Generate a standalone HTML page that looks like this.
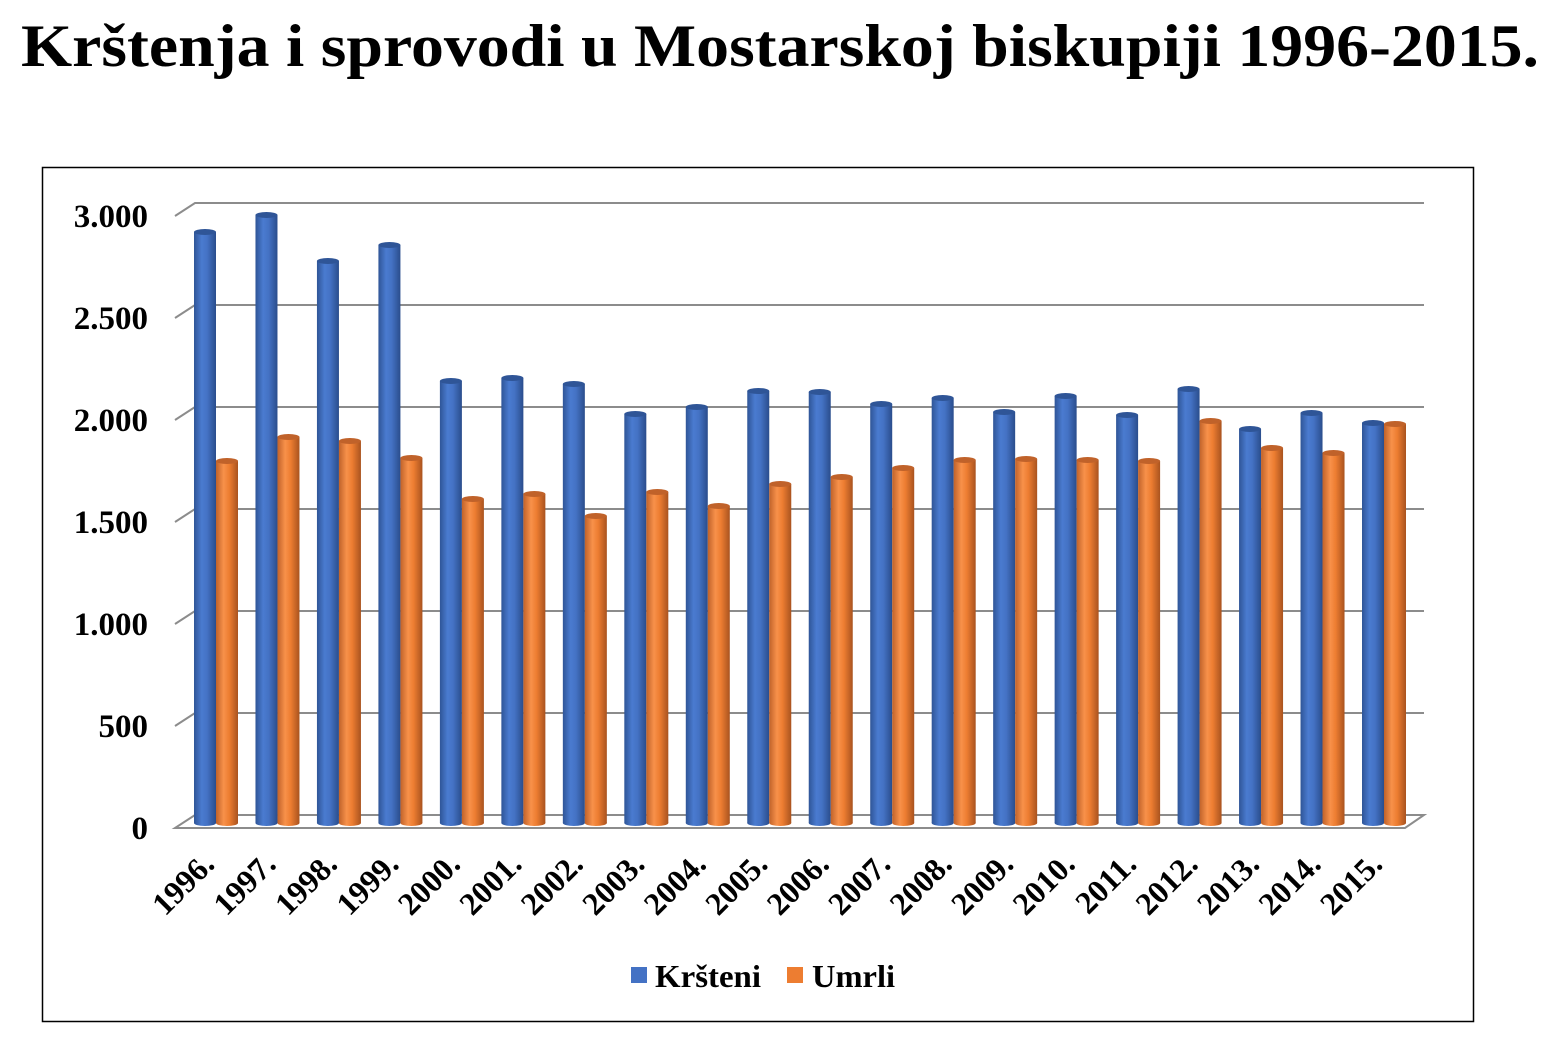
<!DOCTYPE html>
<html><head><meta charset="utf-8"><style>
html,body{margin:0;padding:0;background:#fff;}
svg{display:block;}
</style></head><body>
<svg id="s" width="1550" height="1042" viewBox="0 0 1550 1042" xmlns="http://www.w3.org/2000/svg">
<defs>
<linearGradient id="gb" x1="0" x2="1" y1="0" y2="0">
<stop offset="0" stop-color="#2f5597"/><stop offset="0.35" stop-color="#4a7bd0"/><stop offset="0.6" stop-color="#4472c4"/><stop offset="1" stop-color="#2a4d8c"/></linearGradient>
<linearGradient id="go" x1="0" x2="1" y1="0" y2="0">
<stop offset="0" stop-color="#c0622a"/><stop offset="0.35" stop-color="#f8914a"/><stop offset="0.6" stop-color="#ed7d31"/><stop offset="1" stop-color="#a9531f"/></linearGradient>
</defs>
<text x="780" y="66" text-anchor="middle" font-family="Liberation Serif, serif" font-weight="bold" font-size="60" textLength="1518" lengthAdjust="spacingAndGlyphs">Krštenja i sprovodi u Mostarskoj biskupiji 1996-2015.</text>
<rect x="42.5" y="167.5" width="1431" height="854" fill="none" stroke="#000" stroke-width="1.5"/>
<g id="grid" stroke="#8c8c8c" stroke-width="2" fill="none"></g>
<g id="bars"></g>
<g id="lbl" font-family="Liberation Serif, serif" font-weight="bold"></g>
<rect x="631" y="967" width="16" height="16" fill="#4472c4"/>
<text x="655" y="987" font-family="Liberation Serif, serif" font-weight="bold" font-size="32" textLength="106" lengthAdjust="spacingAndGlyphs">Kršteni</text>
<rect x="787" y="967" width="16" height="16" fill="#ed7d31"/>
<text x="812" y="987" font-family="Liberation Serif, serif" font-weight="bold" font-size="32" textLength="83" lengthAdjust="spacingAndGlyphs">Umrli</text>
</svg>
<script>
var NS="http://www.w3.org/2000/svg";
function el(t,a,p,txt){var e=document.createElementNS(NS,t);for(var k in a)e.setAttribute(k,a[k]);if(txt)e.textContent=txt;p.appendChild(e);return e;}
var g=document.getElementById('grid'),b=document.getElementById('bars'),l=document.getElementById('lbl');
var labs=["3.000","2.500","2.000","1.500","1.000","500","0"];
for(var i=0;i<7;i++){var y=203+i*102;
 if(i<6){el('polyline',{points:(175)+','+(y+13)+' '+195+','+y+' '+1424+','+y},g);}
 el('text',{x:148,y:y+24,'text-anchor':'end','font-size':33},l,labs[i]);}
el('polygon',{points:'195,815 1424,815 1405,828 175,828'},g);
var bt=[232,215,261,245,381,378,384,414,407,391,392,404,398,412,396,415,389,429,413,423];
var ot=[461,437,441,458,499,494,516,492,506,484,477,468,460,459,460,461,421,448,453,424];
var pitch=(1362-194)/19;
function cyl(x,top,c,d){var w=22,bot=823;
 el('rect',{x:x,y:top,width:w,height:bot-top,fill:'url(#'+c+')'},b);
 el('ellipse',{cx:x+w/2,cy:bot,rx:w/2,ry:3,fill:'url(#'+c+')'},b);
 el('ellipse',{cx:x+w/2,cy:top,rx:w/2,ry:3,fill:d},b);}
for(var i=0;i<20;i++){var x=194+i*pitch;
 cyl(x,bt[i],'gb','#2f5597');cyl(x+22,ot[i],'go','#c0622a');
 var ax=x+22,ay=866;
 el('text',{x:ax,y:ay,'text-anchor':'end',transform:'rotate(-45 '+ax+' '+ay+')','font-size':32},l,(1996+i)+'.');}
</script>
</body></html>
